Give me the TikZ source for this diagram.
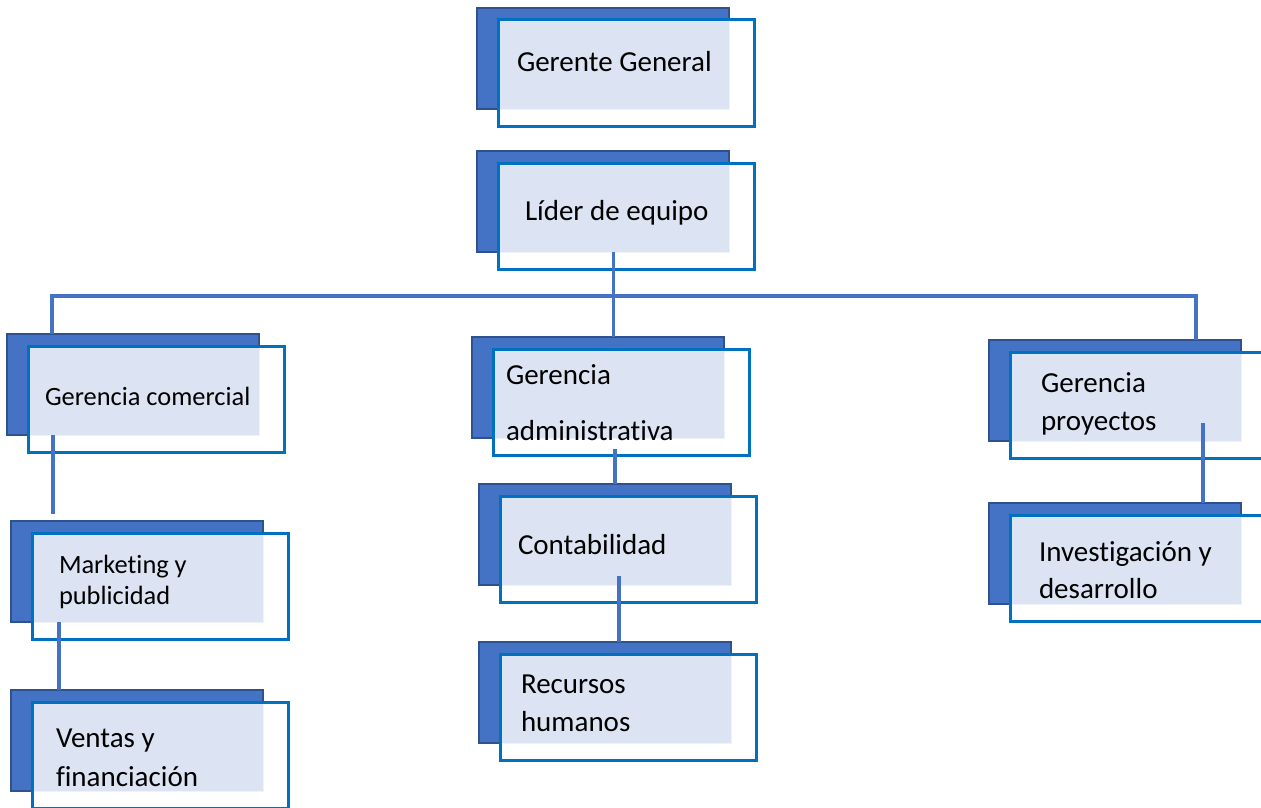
\documentclass[tikz,border=0pt]{standalone}
\usepackage{fontspec}
\setmainfont{Carlito}[Ligatures=NoCommon]
\usetikzlibrary{calc}
\definecolor{darkbox}{RGB}{68,114,196}
\definecolor{darkedge}{RGB}{47,82,143}
\definecolor{lightbox}{RGB}{220,227,242}
\definecolor{outl}{RGB}{0,112,192}
\definecolor{conncol}{RGB}{68,114,196}
\tikzset{
  backbox/.style={fill=darkbox, draw=darkedge, line width=1.5pt},
  facebox/.style={fill=lightbox, draw=white!55!lightbox, line width=0.8pt, inner sep=0pt, outer sep=0pt,
    minimum width=231pt, minimum height=89pt, anchor=north west},
  framebox/.style={draw=outl, line width=3pt},
  conn/.style={draw=conncol, line width=3.2pt},
  lbl/.style={anchor=base west, inner sep=0pt, outer sep=0pt, font=\fontsize{29}{35}\selectfont},
  lbls/.style={anchor=base west, inner sep=0pt, outer sep=0pt, font=\fontsize{26.4}{32}\selectfont},
}
\newcommand\orgbox[3]{%
  \coordinate (#1-top) at (#2,#3);
  \draw[backbox] (#1-top) rectangle ++(252,101);
  \node[facebox] (#1) at (#2+21,#3+12) {};
  \draw[framebox] (#1.north west) rectangle ++(256,106);
}
\begin{document}
\begin{tikzpicture}[x=1pt,y=-1pt]
\useasboundingbox (0,0) rectangle (1261,808);
\clip (0,0) rectangle (1261,808);

\orgbox{gg}{477}{8}
\orgbox{lider}{477}{151}
\orgbox{com}{7}{334}
\orgbox{adm}{472}{337}
\orgbox{proy}{989}{340}
\orgbox{mkt}{11}{521}
\orgbox{cont}{479}{484}
\orgbox{rrhh}{479}{642}
\orgbox{inv}{989}{503}
\orgbox{ven}{11}{690}

\node[lbl] (gg-t) at (517,72) {Gerente General};
\node[lbl] (lider-t) at (525,220) {Líder de equipo};
\node[lbls] (com-t) at (45,405) {Gerencia comercial};
\node[lbl] (adm-t1) at (506,384) {Gerencia};
\node[lbl] (adm-t2) at (506,440) {administrativa};
\node[lbl] (proy-t1) at (1041,392) {Gerencia};
\node[lbl] (proy-t2) at (1041,430) {proyectos};
\node[lbls] (mkt-t1) at (59,573) {Marketing y};
\node[lbls] (mkt-t2) at (59,604) {publicidad};
\node[lbl] (cont-t) at (518,554) {Contabilidad};
\node[lbl] (rrhh-t1) at (521,693) {Recursos};
\node[lbl] (rrhh-t2) at (521,731) {humanos};
\node[lbl] (inv-t1) at (1039,561) {Investigación y};
\node[lbl] (inv-t2) at (1039,598) {desarrollo};
\node[lbl] (ven-t1) at (56,747) {Ventas y};
\node[lbl] (ven-t2) at (56,786) {financiación};

\coordinate (bus) at (615,296);
\draw[conn] (lider.south) -- (lider.south |- adm-top);
\draw[conn] ([xshift=45pt]com-top) |- (bus) -| ([xshift=207pt]proy-top);
\draw[conn] ([xshift=25pt]com.south west) -- ([xshift=25pt,yshift=7pt]com.south west |- mkt-top);
\draw[conn] ([xshift=27pt]mkt.south west) -- ([xshift=27pt]mkt.south west |- ven-top);
\draw[conn] ([xshift=122pt,yshift=-11pt]adm.south west) -- ([xshift=122pt]adm.south west |- cont-top);
\draw[conn] ([xshift=119pt,yshift=9pt]cont.south west) -- ([xshift=119pt]cont.south west |- rrhh-top);
\draw[conn] ([xshift=193pt,yshift=18pt]proy.south west) -- ([xshift=193pt]proy.south west |- inv-top);
\end{tikzpicture}
\end{document}
